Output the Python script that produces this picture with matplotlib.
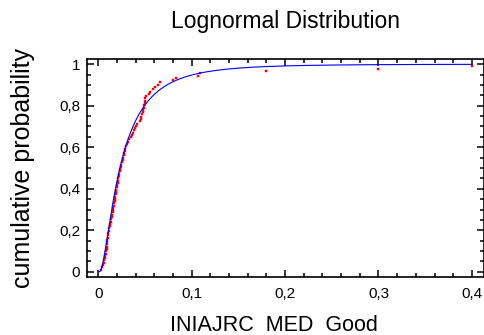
import math
import numpy as np
import matplotlib
matplotlib.use("Agg")
import matplotlib.pyplot as plt
from matplotlib.ticker import MultipleLocator, FuncFormatter

# Sorted sample values (INIAJRC MED Good)
sample = [
    0.0028, 0.0040, 0.0050, 0.0059, 0.0066, 0.0071, 0.0076, 0.0081, 0.0086, 0.0089,
    0.0092, 0.0095, 0.0097, 0.0099, 0.0103, 0.0106, 0.0110, 0.0114, 0.0119, 0.0124,
    0.0129, 0.0134, 0.0139, 0.0144, 0.0149, 0.0153, 0.0158, 0.0162, 0.0166, 0.0170,
    0.0175, 0.0179, 0.0182, 0.0186, 0.0190, 0.0194, 0.0198, 0.0203, 0.0207, 0.0212,
    0.0217, 0.0222, 0.0227, 0.0232, 0.0237, 0.0242, 0.0249, 0.0256, 0.0263, 0.0269,
    0.0276, 0.0281, 0.0286, 0.0291, 0.0299, 0.0306, 0.0317, 0.0332, 0.0346, 0.0359,
    0.0371, 0.0383, 0.0395, 0.0403, 0.0420, 0.0449, 0.0454, 0.0461, 0.0469, 0.0477,
    0.0484, 0.0490, 0.0495, 0.0498, 0.0500, 0.0503, 0.0515, 0.0540, 0.0556, 0.0590,
    0.0610, 0.0635, 0.0660, 0.0800, 0.0830, 0.1070, 0.1090, 0.1800, 0.3000, 0.4000,
]

# Fitted lognormal parameters
fit_median = 0.0232
fit_sigma = 0.90

x_ticks = [0.0, 0.1, 0.2, 0.3, 0.4]
y_ticks = [0.0, 0.2, 0.4, 0.6, 0.8, 1.0]

title = "Lognormal Distribution"
x_label = "INIAJRC  MED  Good"
y_label = "cumulative probability"

plt.rcParams["font.family"] = ["Liberation Sans", "DejaVu Sans"]

fig = plt.figure(figsize=(4.85, 3.35), dpi=100)
ax = fig.add_axes([0.1794, 0.1731, 0.8186, 0.6508])

# empirical CDF of the sample
n = len(sample)
xs = np.sort(np.array(sample))
ps = np.arange(1, n + 1) / (n + 1)
ax.plot(xs, ps, linestyle="none", marker="s", markersize=2.0,
        markerfacecolor="#ff0000", markeredgecolor="#ff0000",
        markeredgewidth=0.3, zorder=2)

# fitted lognormal CDF
mu = math.log(fit_median)
grid = np.linspace(0.0002, max(sample), 800)
cdf = np.array([0.5 * (1 + math.erf((math.log(g) - mu) / (fit_sigma * math.sqrt(2))))
                for g in grid])
grid = np.concatenate([[0.0], grid])
cdf = np.concatenate([[0.0], cdf])
ax.plot(grid, cdf, color="#0000ff", linewidth=0.8, zorder=3)

ax.set_xlim(-0.012, 0.413)
ax.set_ylim(-0.025, 1.025)

ax.set_xticks(x_ticks)
ax.set_yticks(y_ticks)
ax.xaxis.set_minor_locator(MultipleLocator(0.02))
ax.yaxis.set_minor_locator(MultipleLocator(0.05))


def comma_fmt(v, pos):
    s = ("%.1f" % v).rstrip("0").rstrip(".")
    if s in ("-0", ""):
        s = "0"
    return s.replace(".", ",")


ax.xaxis.set_major_formatter(FuncFormatter(comma_fmt))
ax.yaxis.set_major_formatter(FuncFormatter(comma_fmt))

ax.tick_params(which="both", direction="in", top=True, right=True,
               width=1.1, labelsize=11, colors="black")
ax.tick_params(which="major", length=5)
ax.tick_params(which="minor", length=3)
ax.tick_params(axis="x", pad=7)
ax.tick_params(axis="y", pad=5)

for sp in ax.spines.values():
    sp.set_linewidth(1.2)

fig.text(0.588, 0.915, title, ha="center", va="baseline", fontsize=16.5)
fig.text(0.564, 0.012, x_label, ha="center", va="baseline", fontsize=15.5)
fig.text(0.047, 0.50, y_label, ha="center", va="center", rotation=90, fontsize=18)

fig.savefig("out.png", dpi=100)
